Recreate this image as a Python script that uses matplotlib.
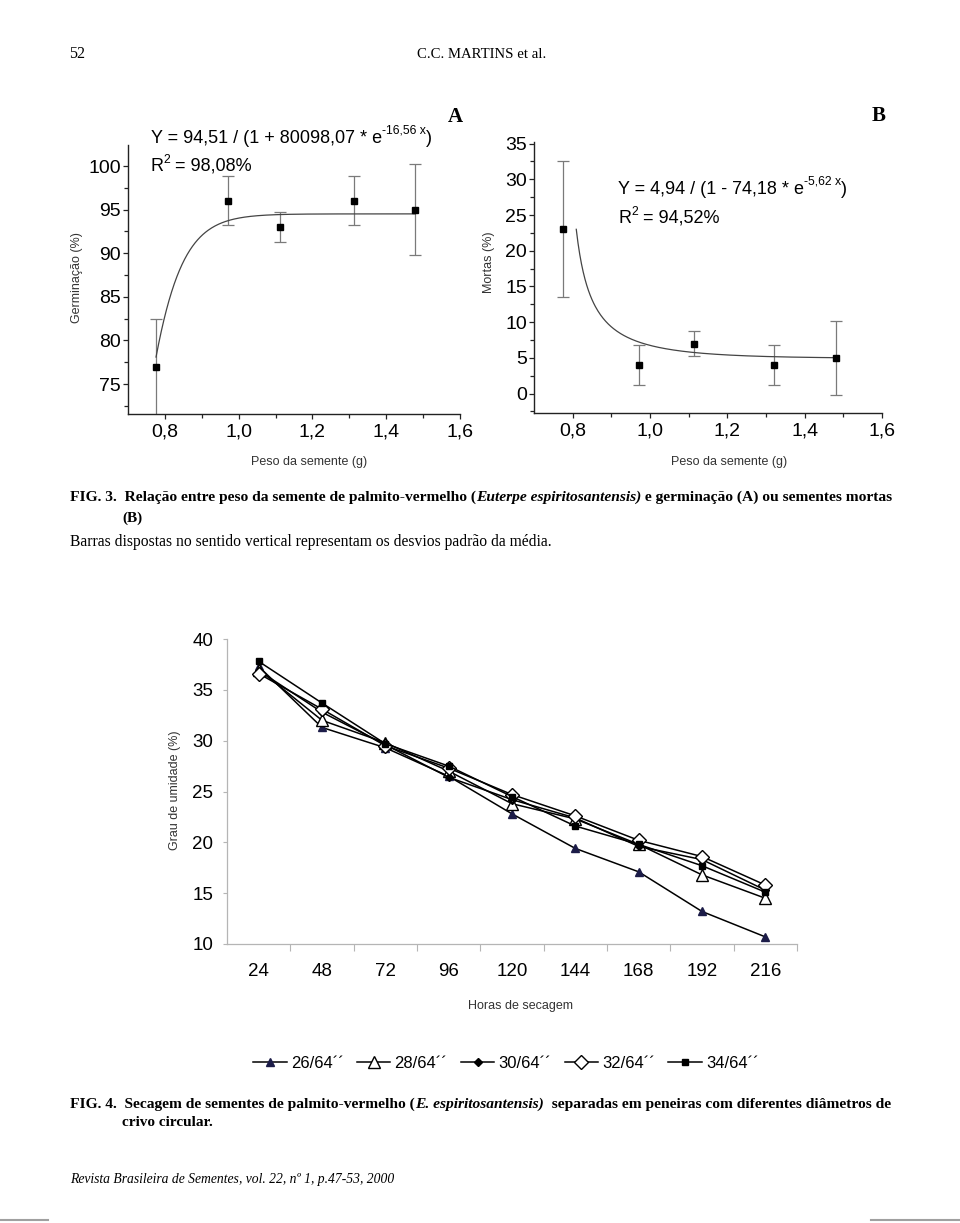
"""Fig. 3 (peso x germinacao / mortas) e Fig. 4 (secagem) - pagina 52"""
import numpy as np
import matplotlib
matplotlib.use("Agg")
import matplotlib.pyplot as plt
from matplotlib.lines import Line2D

W, H = 960, 1223

# Fig. 3 - peso da semente (g) x germinacao / sementes mortas (%)
peso_a = [0.776, 0.971, 1.113, 1.313, 1.479]
germinacao = [77, 96, 93, 96, 95]
germinacao_dp = [5.5, 2.8, 1.7, 2.8, 5.2]

peso_b = [0.776, 0.971, 1.115, 1.320, 1.480]
mortas = [23, 4, 7, 4, 5]
mortas_dp = [9.5, 2.8, 1.8, 2.8, 5.2]

# parametros das curvas ajustadas, como impressos no grafico
ajuste_a = (94.51, 80098.07, 16.56)
ajuste_b = (4.94, 74.18, 5.62)

# Fig. 4 - grau de umidade (%) por horas de secagem
horas = ['24', '48', '72', '96', '120', '144', '168', '192', '216']
peneiras = ['26/64´´', '28/64´´', '30/64´´', '32/64´´', '34/64´´']
u26 = [37.3, 31.3, 29.3, 26.5, 22.8, 19.4, 17.1, 13.2, 10.7]
u28 = [37.0, 32.0, 29.8, 27.0, 23.8, 22.3, 19.8, 16.8, 14.5]
u30 = [36.9, 32.8, 29.6, 26.4, 24.2, 22.4, 19.6, 18.3, 15.3]
u32 = [36.6, 33.1, 29.5, 27.3, 24.7, 22.6, 20.2, 18.6, 15.8]
u34 = [37.8, 33.7, 29.7, 27.5, 24.5, 21.6, 19.8, 17.7, 15.1]

SANS = ['Liberation Sans', 'DejaVu Sans']
NARROW = ['Liberation Sans Narrow', 'Liberation Sans', 'DejaVu Sans']
SERIF = ['Liberation Serif', 'DejaVu Serif']

fig = plt.figure(figsize=(W / 100, H / 100), dpi=100)
fig.patch.set_facecolor('white')
rend = fig.canvas.get_renderer()


def caixa(l, t, r, b):
    return [l / W, 1 - b / H, (r - l) / W, (b - t) / H]


def texto(x, y, partes, size, largura=None, **base):
    """escreve pedacos de texto em sequencia na linha de base y (pixels)"""
    def desenha(sz):
        objs, cx = [], x
        for txt, kw in partes:
            kw = {**base, **kw}
            esc = kw.pop('esc', 1.0)
            sobe = kw.pop('sobe', 0.0)
            t = fig.text(cx / W, 1 - (y - sobe) / H, txt, fontsize=sz * esc,
                         va='baseline', ha='left', **kw)
            cx += t.get_window_extent(rend).width
            objs.append(t)
        return objs, cx - x
    objs, w = desenha(size)
    if largura:
        for t in objs:
            t.remove()
        objs, w = desenha(size * largura / w)
    return objs


def eixo_origin(rect, ylim, yticks, yminor):
    ax = fig.add_axes(rect)
    ax.set_facecolor('none')
    for s in ['top', 'right']:
        ax.spines[s].set_visible(False)
    for s in ['left', 'bottom']:
        ax.spines[s].set_linewidth(1.0)
        ax.spines[s].set_color('#222222')
    ax.set_xlim(0.7, 1.6)
    ax.set_ylim(*ylim)
    xt = [0.8, 1.0, 1.2, 1.4, 1.6]
    ax.set_xticks(xt)
    ax.set_xticklabels([f"{v:.1f}".replace('.', ',') for v in xt])
    ax.set_xticks([0.9, 1.1, 1.3, 1.5], minor=True)
    ax.set_yticks(yticks)
    ax.set_yticklabels([str(v) for v in yticks])
    ax.set_yticks(yminor, minor=True)
    ax.tick_params(which='major', direction='out', length=3.6, width=0.9,
                   color='#222222', labelsize=14, pad=1.5)
    ax.tick_params(axis='x', which='major', pad=3)
    ax.tick_params(which='minor', direction='out', length=2.6, width=0.9,
                   color='#222222')
    for lab in ax.get_xticklabels() + ax.get_yticklabels():
        lab.set_family(SANS)
    return ax


def barras(ax, x, y, dp):
    ax.errorbar(x, y, yerr=dp, fmt='none', ecolor='#7a7a7a', elinewidth=0.9,
                capsize=4.2, capthick=0.9, clip_on=True, zorder=2)
    ax.plot(x, y, ls='none', marker='s', ms=5, color='black', zorder=4,
            clip_on=False)


# ---- painel A ----
axa = eixo_origin(caixa(128, 145, 460, 414), (71.56, 102.41),
                  [75, 80, 85, 90, 95, 100], np.arange(72.5, 102, 5))
a, b, c = ajuste_a
xa = np.linspace(peso_a[0], peso_a[-1], 300)
axa.plot(xa, a / (1 + b * np.exp(-c * xa)), color='#444444', lw=0.9, zorder=3)
barras(axa, peso_a, germinacao, germinacao_dp)

# ---- painel B ----
axb = eixo_origin(caixa(534, 142, 882, 413), (-2.71, 35.22),
                  [0, 5, 10, 15, 20, 25, 30, 35], np.arange(-2.5, 35, 5))
a, b, c = ajuste_b
x0 = np.log(b / (1 - a / mortas[0])) / c
xb = np.linspace(x0, peso_b[-1], 300)
axb.plot(xb, a / (1 - b * np.exp(-c * xb)), color='#444444', lw=0.9, zorder=3)
barras(axb, peso_b, mortas, mortas_dp)

for (cx, cy), lab in [((76.7, 277.5), 'Germinação (%)'), ((489, 262), 'Mortas (%)')]:
    fig.text(cx / W, 1 - cy / H, lab, rotation=90, ha='center', va='center',
             fontsize=9, family=SANS, color='#333333')
for cx in (308.7, 728.7):
    fig.text(cx / W, 1 - 461.7 / H, 'Peso da semente (g)', ha='center',
             va='center', fontsize=9, family=SANS, color='#333333')

texto(150.7, 142.7, [('Y = 94,51 / (1 + 80098,07 * e', {}),
                     ('-16,56 x', {'esc': 0.68, 'sobe': 9.5}),
                     (')', {})], 13, family=SANS)
texto(150.7, 170.7, [('R', {}), ('2', {'esc': 0.68, 'sobe': 8}),
                     (' = 98,08%', {})], 13, family=SANS)
texto(618.3, 194, [('Y = 4,94 / (1 - 74,18 * e', {}),
                   ('-5,62 x', {'esc': 0.68, 'sobe': 9.5}),
                   (')', {})], 13, family=SANS)
texto(618.3, 222.7, [('R', {}), ('2', {'esc': 0.68, 'sobe': 8}),
                     (' = 94,52%', {})], 13, family=SANS)

fig.text(455 / W, 1 - 117 / H, 'A', ha='center', va='center', fontsize=15,
         fontweight='bold', family=SERIF)
fig.text(879 / W, 1 - 116 / H, 'B', ha='center', va='center', fontsize=15,
         fontweight='bold', family=SERIF)

# ---- Fig. 4 ----
ax4 = fig.add_axes(caixa(227, 639, 797, 944))
ax4.set_facecolor('none')
for s in ['top', 'right']:
    ax4.spines[s].set_visible(False)
for s in ['left', 'bottom']:
    ax4.spines[s].set_color('#b5b5b5')
    ax4.spines[s].set_linewidth(0.9)

estilos = [
    dict(marker='^', ms=6, mfc='#1c1c48', mec='#1c1c48'),
    dict(marker='^', ms=9, mfc='white', mec='black', mew=1.0),
    dict(marker='D', ms=4, mfc='black', mec='black'),
    dict(marker='D', ms=7, mfc='white', mec='black', mew=1.0),
    dict(marker='s', ms=5, mfc='black', mec='black'),
]
pos = np.arange(len(horas))
for serie, nome, est in zip([u26, u28, u30, u32, u34], peneiras, estilos):
    ax4.plot(pos, serie, color='black', lw=1.1, label=nome, clip_on=False, **est)

ax4.set_xlim(-0.5, len(horas) - 0.5)
ax4.set_ylim(10, 40)
ax4.set_yticks(range(10, 41, 5))
ax4.set_yticklabels([str(v) for v in range(10, 41, 5)])
ax4.set_xticks(np.arange(0.5, len(horas), 1))
ax4.set_xticklabels([])
ax4.set_xticks(pos, minor=True)
ax4.set_xticklabels(horas, minor=True)
ax4.tick_params(axis='y', direction='out', length=3, width=0.8, color='#b5b5b5',
                labelsize=13.5, pad=7)
ax4.tick_params(axis='x', which='major', direction='out', length=5, width=0.8,
                color='#b5b5b5')
ax4.tick_params(axis='x', which='minor', length=0, labelsize=13.5, pad=14)
for lab in ax4.get_yticklabels() + ax4.get_xticklabels(minor=True):
    lab.set_family(NARROW)

fig.text(175 / W, 1 - 790 / H, 'Grau de umidade (%)', rotation=90, ha='center',
         va='center', fontsize=9, family=SANS, color='#333333')
fig.text(520 / W, 1 - 1006 / H, 'Horas de secagem', ha='center', va='center',
         fontsize=9, family=SANS, color='#333333')

fig.legend(loc='center', bbox_to_anchor=(506 / W, 1 - 1063 / H), ncol=5,
           frameon=False, prop={'family': NARROW, 'size': 12},
           handlelength=2.0, handletextpad=0.25, columnspacing=0.8)

# ---- textos da pagina ----
texto(68.7, 58, [('52', {})], 11.5, family=SERIF)
texto(417, 58, [('C.C. MARTINS et al.', {})], 11.5, largura=128, family=SERIF)

texto(70, 501, [('FIG. 3.  Relação entre peso da semente de palmito-vermelho (', {}),
                ('Euterpe espiritosantensis)', {'style': 'italic'}),
                (' e germinação (A) ou sementes mortas', {})],
      11, largura=821, family=SERIF, fontweight='bold')
texto(122, 522, [('(B)', {})], 11, family=SERIF, fontweight='bold')
texto(70, 546, [('Barras dispostas no sentido vertical representam os desvios padrão da média.', {})],
      11, largura=479, family=SERIF)

texto(70, 1108, [('FIG. 4.  Secagem de sementes de palmito-vermelho (', {}),
                 ('E. espiritosantensis)', {'style': 'italic'}),
                 ('  separadas em peneiras com diferentes diâmetros de', {})],
      11, largura=821, family=SERIF, fontweight='bold')
texto(122, 1126, [('crivo circular.', {})], 11, family=SERIF, fontweight='bold')
texto(70, 1183, [('Revista Brasileira de Sementes', {}),
                 (', vol. 22, nº 1, p.47-53, 2000', {})],
      10, largura=324, family=SERIF, style='italic')

# marcas de corte no rodape
for x1, x2 in [(0, 48), (871, 960)]:
    fig.add_artist(Line2D([x1 / W, x2 / W], [1 - 1220 / H] * 2, color='#a0a0a0', lw=1.5))

fig.savefig('out.png', dpi=100, facecolor='white')
